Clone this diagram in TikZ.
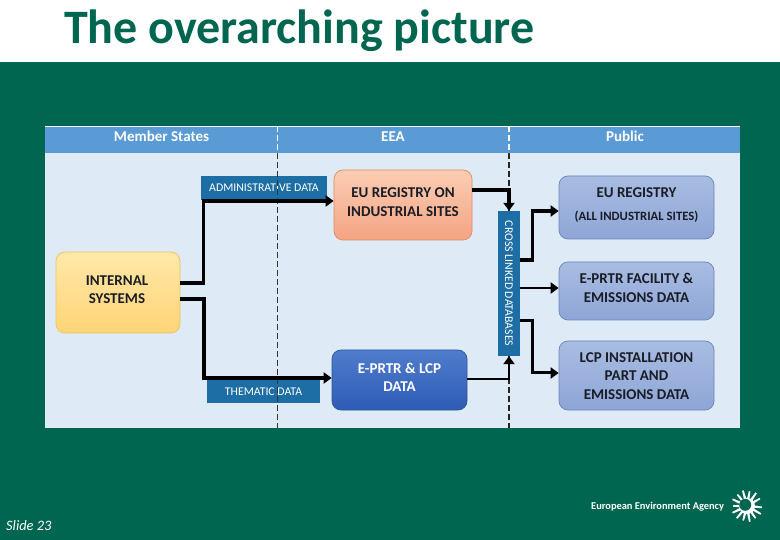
\documentclass[tikz,border=0pt]{standalone}
\usepackage{fontspec}
\setmainfont{Carlito}
\usetikzlibrary{arrows.meta,calc}
\definecolor{eeagreen}{HTML}{00664F}
\definecolor{bandblue}{HTML}{5B9BD5}
\definecolor{bodyblue}{HTML}{DEEAF6}
\definecolor{tagblue}{HTML}{1C6EA4}
\definecolor{boxtxt}{HTML}{1A1C26}
\definecolor{pubTop}{HTML}{A9BDE2}
\definecolor{pubBot}{HTML}{8EA5D6}
\definecolor{pubEdge}{HTML}{6A84BC}
\definecolor{orTop}{HTML}{FBCDB4}
\definecolor{orBot}{HTML}{F4A483}
\definecolor{orEdge}{HTML}{E58A62}
\definecolor{blTop}{HTML}{4F7CCB}
\definecolor{blBot}{HTML}{2E5CB6}
\definecolor{blEdge}{HTML}{2F5597}
\definecolor{yeTop}{HTML}{FFE8A8}
\definecolor{yeBot}{HTML}{FFD477}
\definecolor{yeEdge}{HTML}{EBC45F}
\tikzset{
  x=1pt,y=-1pt,
  rbox/.style={rounded corners=9pt,inner sep=0pt,line width=0.7pt},
  orbox/.style={rbox,draw=orEdge,top color=orTop,bottom color=orBot},
  blbox/.style={rbox,draw=blEdge,top color=blTop,bottom color=blBot},
  yebox/.style={rbox,draw=yeEdge,top color=yeTop,bottom color=yeBot},
  pubbox/.style={rbox,draw=pubEdge,top color=pubTop,bottom color=pubBot},
  boxtext/.style={inner sep=0pt,align=center,text=boxtxt,font=\bfseries\fontsize{15}{18.3}\selectfont},
  tagbox/.style={fill=tagblue,text=white,inner sep=0pt,font=\fontsize{11.8}{14}\selectfont},
  headtxt/.style={anchor=base,text=white,font=\bfseries\fontsize{15}{18}\selectfont,inner sep=0pt},
  flow/.style={line width=3.4pt,draw=black,-{Triangle[length=8pt,width=11pt]}},
  sepline/.style={line width=#1,dash pattern=on 6pt off 3pt}
}
\begin{document}
\begin{tikzpicture}
\useasboundingbox (0,0) rectangle (780,540);
\fill[white] (0,0) rectangle (780,62);
\fill[eeagreen] (0,62) rectangle (780,540);
\fill[bodyblue] (45,153) rectangle (740,428);
\fill[bandblue] (45,126) rectangle (740,153);
\draw[white,line width=0.8pt] (45,126) -- (740,126);
\node[anchor=base west,inner sep=0pt,text=eeagreen,font=\bfseries\fontsize{48}{50}\selectfont] (title) at (64,44) {The overarching picture};
\node[headtxt] (hms) at (161.5,142) {Member States};
\node[headtxt] (hea) at (393,142) {EEA};
\node[headtxt] (hpu) at (625,142) {Public};
\node[tagbox,minimum width=126pt,minimum height=24pt] (adm) at (264,188) {ADMINISTRATIVE DATA};
\node[tagbox,minimum width=113pt,minimum height=23pt] (the) at (263.5,391.5) {THEMATIC DATA};
\coordinate (d1a) at (277,126); \coordinate (d1m) at (277,153); \coordinate (d1b) at (277,428);
\coordinate (d2a) at (509,126); \coordinate (d2m) at (509,153); \coordinate (d2b) at (509,428);
\draw[sepline=0.8pt,draw=black!80] (d1m) -- (d1b);
\draw[sepline=1.3pt,draw=black!85] (d2m) -- (d2b);
\draw[sepline=0.8pt,draw=white] (d1a) -- (d1m);
\draw[sepline=1.3pt,draw=white] (d2a) -- (d2m);
\node[orbox,minimum width=138pt,minimum height=70pt] (reg) at (403,205) {};
\node[boxtext] (regt) at (403,202) {EU REGISTRY ON\\INDUSTRIAL SITES};
\node[blbox,minimum width=135pt,minimum height=60pt] (epr) at (399.5,380) {};
\node[boxtext,text=white] (eprt) at (399.5,377) {E-PRTR \& LCP\\DATA};
\node[yebox,minimum width=124pt,minimum height=81pt] (int) at (118,292.5) {};
\node[boxtext] (intt) at (117,289.5) {INTERNAL\\SYSTEMS};
\node[tagbox,minimum width=145pt,minimum height=22pt,rotate=-90] (cross) at (509,283.5) {CROSS LINKED DATABASES};
\node[pubbox,minimum width=155pt,minimum height=63pt] (p1) at (636.5,207.5) {};
\node[boxtext] (p1a) at (636.5,193) {EU REGISTRY};
\node[boxtext,font=\bfseries\fontsize{12.7}{15}\selectfont] (p1b) at (636.5,216.5) {(ALL INDUSTRIAL SITES)};
\node[pubbox,minimum width=155pt,minimum height=58pt] (p2) at (636.5,291) {};
\node[boxtext] (p2t) at (636.5,288) {E-PRTR FACILITY \&\\EMISSIONS DATA};
\node[pubbox,minimum width=155pt,minimum height=69pt] (p3) at (636.5,375.5) {};
\node[boxtext] (p3t) at (636.5,376) {LCP INSTALLATION\\PART AND\\EMISSIONS DATA};
\draw[flow] ([yshift=9.5pt]int.east) -- ++(23,0) |- ([yshift=4pt]reg.west);
\draw[flow,line width=3.8pt] ([yshift=-6.5pt]int.east) -- ++(24,0) |- ([yshift=2pt]epr.west);
\draw[flow] ([yshift=15pt]reg.east) -| (cross.west);
\draw[flow,line width=2.6pt] ([yshift=1pt]epr.east) -| (cross.east);
\draw[flow] ([yshift=23.5pt]cross.north) -- ++(12,0) |- ([yshift=-3.5pt]p1.west);
\draw[flow,line width=2.6pt] ([yshift=-4.5pt]cross.north) -- ([yshift=3pt]p2.west);
\draw[flow,line width=3pt] ([yshift=-37.5pt]cross.north) -- ++(12,0) |- ([yshift=2.5pt]p3.west);
\node[anchor=base west,inner sep=0pt,text=white,font=\itshape\fontsize{14.4}{16}\selectfont] (slide) at (6,530.5) {Slide 23};
\node[anchor=base west,inner sep=0pt,text=white,font=\bfseries\fontsize{10.4}{12}\selectfont] (eea) at (591,509.5) {European Environment Agency};
\begin{scope}[shift={(747,506)}]
  \foreach \a/\r in {5/15,30/16,55/15,80/16,105/15,130/16,155/16,180/14,205/16,230/15,255/16,280/15,305/16,330/15}{
    \fill[white] (\a-11:6.5) -- (\a-3:\r) -- (\a+3:\r) -- (\a+11:6.5) -- cycle;
  }
  \fill[white] (0,0) circle (8);
  \fill[eeagreen] (-1.8,-1.2) circle (6);
\end{scope}
\end{tikzpicture}
\end{document}
